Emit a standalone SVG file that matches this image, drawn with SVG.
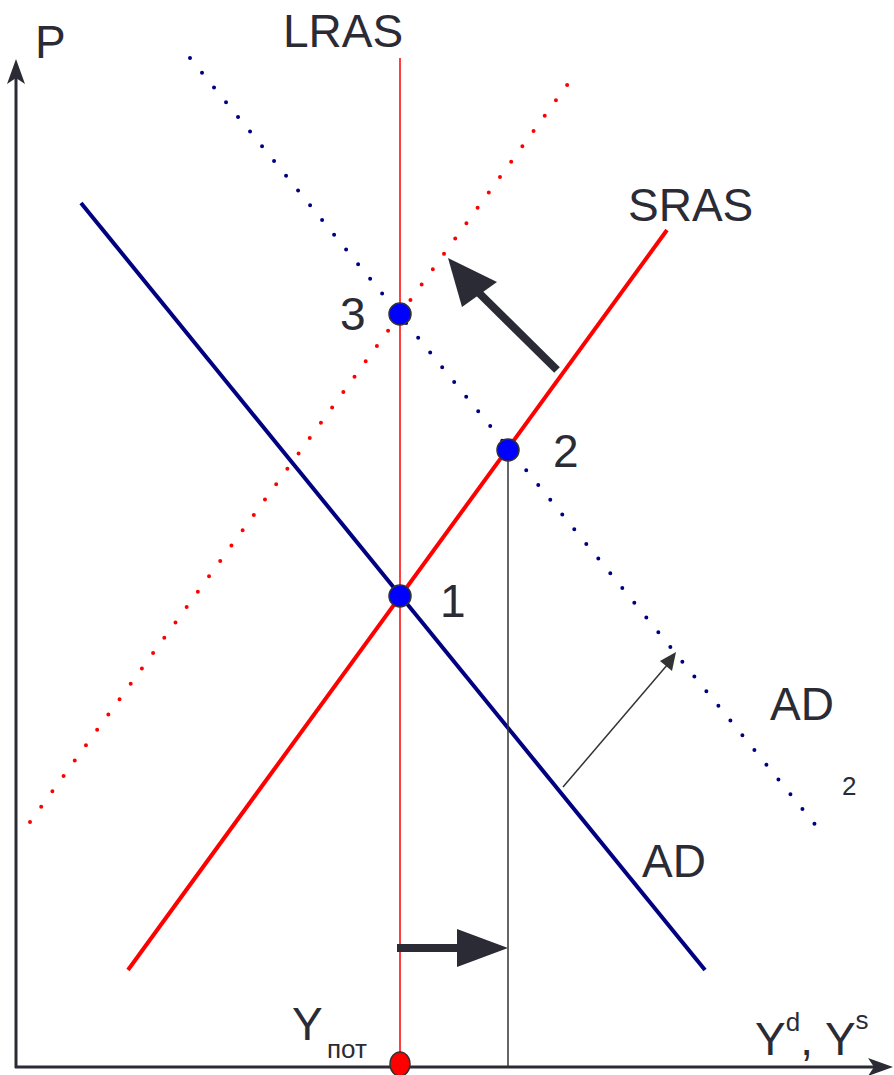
<svg xmlns="http://www.w3.org/2000/svg" width="894" height="1075" viewBox="0 0 894 1075">
<style>
.t{font-family:"Liberation Sans",Arial,sans-serif;fill:#2b2b35;font-size:46px}
.s{font-size:26px}
.dotB{stroke:#000080;stroke-width:4;stroke-linecap:round;stroke-dasharray:0 19;fill:none}
.dotR{stroke:#ff0000;stroke-width:4;stroke-linecap:round;stroke-dasharray:0 19;fill:none}
.pt{fill:#0000ff;stroke:#333;stroke-width:1.5}
</style>
<rect width="894" height="1075" fill="#fff"/>
<g id="axes">
<line x1="16" y1="1068" x2="16" y2="70" stroke="#2b2b35" stroke-width="3"/>
<polygon points="16,59 25,84 16,78 7,84" fill="#2b2b35"/>
<line x1="15" y1="1067" x2="884" y2="1067" stroke="#2b2b35" stroke-width="3"/>
<polygon points="893,1067 868,1076 874,1067 868,1058" fill="#2b2b35"/>
<text class="t" x="35" y="58">P</text>
<text class="t" x="755" y="1055">Y<tspan class="s" dy="-24">d</tspan><tspan dy="24">, Y</tspan><tspan class="s" dy="-26">s</tspan></text>
</g>
<g id="connectors">
<line id="ad2" class="dotB" x1="190" y1="58" x2="818" y2="828"/>
<line id="sras2" class="dotR" x1="30" y1="822" x2="570" y2="81"/>
<line id="lras" x1="400" y1="58" x2="400" y2="1062" stroke="#ff0000" stroke-width="1.5"/>
<line id="ad" x1="81" y1="203" x2="705" y2="970" stroke="#000080" stroke-width="4"/>
<line id="sras" x1="128" y1="970" x2="667" y2="230" stroke="#ff0000" stroke-width="4"/>
<line id="ydrop" x1="508" y1="450" x2="508" y2="1067" stroke="#333" stroke-width="1.5"/>
<g id="shiftY">
<line x1="397" y1="948" x2="460" y2="948" stroke="#2b2b35" stroke-width="8"/>
<polygon points="457,929 508,948 457,967" fill="#2b2b35"/>
</g>
<g id="shiftSRAS">
<line x1="557" y1="370" x2="478" y2="292" stroke="#2b2b35" stroke-width="8"/>
<polygon points="448,258 497,282 462,307" fill="#2b2b35"/>
</g>
<g id="shiftAD">
<line x1="563" y1="787" x2="668" y2="664" stroke="#333" stroke-width="1.5"/>
<polygon points="676,652 672,671 660,661" fill="#333"/>
</g>
</g>
<g id="n1"><circle class="pt" cx="400" cy="596" r="11"/><text class="t" x="440" y="617">1</text></g>
<g id="n2"><circle class="pt" cx="508" cy="450" r="11"/><text class="t" x="553" y="467">2</text></g>
<g id="n3"><circle class="pt" cx="400" cy="314" r="11"/><text class="t" x="340" y="330">3</text></g>
<g id="ypot"><ellipse cx="400" cy="1064" rx="10" ry="12" fill="#ff0000" stroke="#333" stroke-width="1.5"/><text class="t" x="292" y="1040">Y</text><text class="t s" x="327" y="1058">пот</text></g>
<g id="labels">
<text class="t" x="283" y="47">LRAS</text>
<text class="t" x="628" y="221">SRAS</text>
<text class="t" x="770" y="720">AD</text>
<text class="t s" x="842" y="795">2</text>
<text class="t" x="642" y="877">AD</text>
</g>
</svg>
